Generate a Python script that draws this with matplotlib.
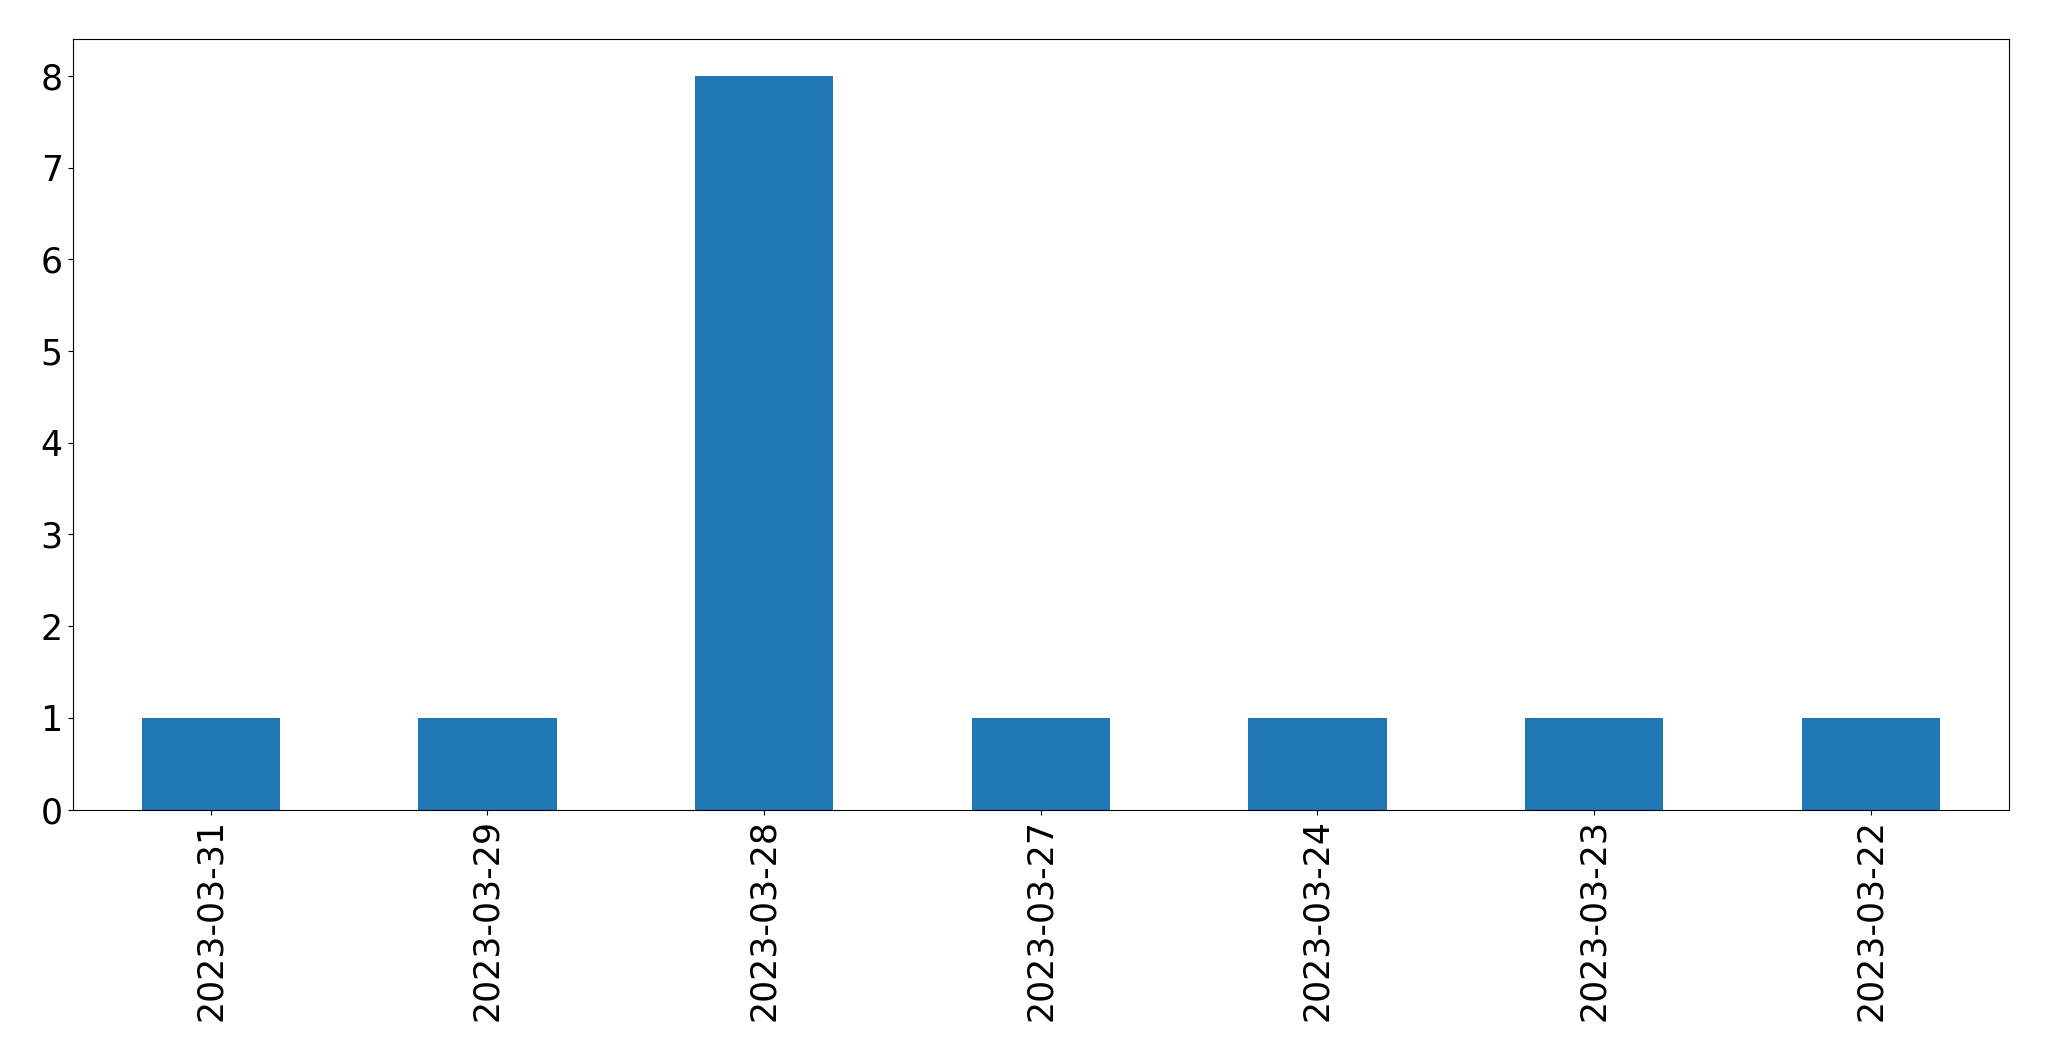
import matplotlib
matplotlib.use("Agg")
import matplotlib.pyplot as plt
import numpy as np

dates = ["2023-03-31", "2023-03-29", "2023-03-28", "2023-03-27", "2023-03-24", "2023-03-23", "2023-03-22"]
counts = [1, 1, 8, 1, 1, 1, 1]

fig = plt.figure(figsize=(20.49, 10.61), dpi=100)
ax = fig.add_axes([72.5/2049, 1 - 809.5/1061, (2009-72.5)/2049, (809.5-39.3)/1061])
x = np.arange(len(dates))
ax.bar(x, counts, width=0.5, color="#1f77b4")
ax.set_xlim(-0.5, len(dates) - 0.5)
ax.set_ylim(0, 8.4)
ax.set_xticks(x)
ax.set_xticklabels(dates, rotation=90)
ax.tick_params(labelsize=25)
fig.savefig("out.png", dpi=100)
